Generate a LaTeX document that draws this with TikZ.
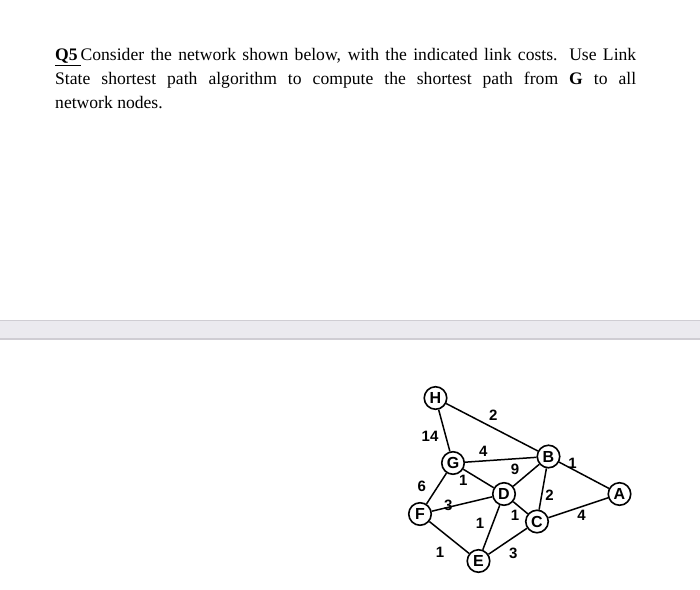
\documentclass[tikz,border=0pt]{standalone}
\usepackage{fontspec}
\setmainfont{Liberation Serif}
\newfontfamily\graphfont{Liberation Sans}
\usetikzlibrary{calc}
\definecolor{barfill}{HTML}{EBEAEF}
\definecolor{baredge}{HTML}{CFCDD3}
\begin{document}
\begin{tikzpicture}[x=1pt,y=-1pt,
  nd/.style={draw,circle,line width=1.6pt,inner sep=0pt,minimum size=22.5pt,fill=white,
    font=\graphfont\bfseries\fontsize{16}{16}\selectfont},
  lk/.style={line width=1.5pt},
  lbl/.style={font=\graphfont\bfseries\fontsize{15}{15}\selectfont,inner sep=0pt}]
\useasboundingbox[fill=white] (0,0) rectangle (700,589);
% question text
\node[anchor=north west,inner sep=0pt,text width=581pt,align=justify,
  font=\fontsize{17.6}{24}\selectfont] (q) at (55,48.5)
  {\underline{\textbf{Q5}\,}Consider the network shown below, with the indicated link costs. Use Link\linebreak
   State shortest path algorithm to compute the shortest path from \textbf{G} to all\linebreak
   network nodes.};
% bar
\fill[barfill] (0,320) rectangle (700,340);
\draw[baredge,line width=1pt] (0,320.5) -- (700,320.5);
\draw[baredge,line width=1.5pt] (0,339) -- (700,339);
% nodes
\node[nd] (H) at (435.5,398) {H};
\node[nd] (G) at (453,463) {G};
\node[nd] (B) at (548.5,456.5) {B};
\node[nd] (D) at (504,494) {D};
\node[nd] (A) at (619.5,494) {A};
\node[nd] (F) at (420,514) {F};
\node[nd] (C) at (537,521.5) {C};
\node[nd] (E) at (478.5,561) {E};
% links
\draw[lk] (H) -- (B);
\draw[lk] (H) -- (G);
\draw[lk] (G) -- (B);
\draw[lk] (G) -- (D);
\draw[lk] (G) -- (F);
\draw[lk] (B) -- (D);
\draw[lk] (B) -- (A);
\draw[lk] (B) -- (C);
\draw[lk] (F) -- (D);
\draw[lk] (D) -- (C);
\draw[lk] (D) -- (E);
\draw[lk] (C) -- (A);
\draw[lk] (F) -- (E);
\draw[lk] (E) -- (C);
% labels
\node[lbl] (lHB) at (493.3,415) {2};
\node[lbl] (lHG) at (430,436.5) {14};
\node[lbl] (lGB) at (483.3,451.5) {4};
\node[lbl] (lBD) at (515,469.5) {9};
\node[lbl] (lBA) at (572.5,463) {1};
\node[lbl] (lGF) at (421.7,486.5) {6};
\node[lbl] (lGD) at (463.3,480) {1};
\node[lbl] (lFD) at (448.3,505) {3};
\node[lbl] (lBC) at (549.5,495) {2};
\node[lbl] (lDC) at (515,515) {1};
\node[lbl] (lCA) at (581.5,515) {4};
\node[lbl] (lDE) at (480,523.3) {1};
\node[lbl] (lFE) at (440,552) {1};
\node[lbl] (lEC) at (513.3,553.3) {3};
\end{tikzpicture}
\end{document}
